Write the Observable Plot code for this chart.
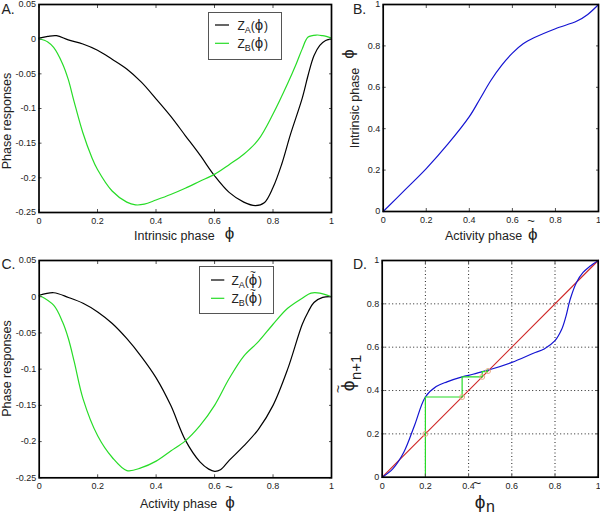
<!DOCTYPE html>
<html><head><meta charset="utf-8">
<script src="https://cdn.jsdelivr.net/npm/d3@7"></script>
<script src="https://cdn.jsdelivr.net/npm/@observablehq/plot@0.6"></script>
<style>
body{margin:0;background:#fff;}
#wrap{position:relative;width:600px;height:515px;overflow:hidden;}
#wrap svg{position:absolute;}
</style></head><body><div id="wrap"></div>
<script>
// ---- Panel A: phase responses vs intrinsic phase
const phiA_A = [0,0.03,0.06,0.1,0.15,0.2,0.25,0.3,0.35,0.4,0.45,0.5,0.55,0.6,0.65,0.7,0.74,0.77,0.8,0.83,0.86,0.9,0.92,0.94,0.96,0.98,1];
const zA_A   = [0.0015,0.004,0.005,-0.001,-0.007,-0.016,-0.029,-0.043,-0.062,-0.086,-0.111,-0.139,-0.167,-0.197,-0.221,-0.235,-0.24,-0.236,-0.214,-0.18,-0.137,-0.085,-0.052,-0.024,-0.009,-0.002,0];
const phiA_B = [0,0.03,0.05,0.08,0.1,0.12,0.15,0.18,0.2,0.25,0.3,0.33,0.36,0.4,0.45,0.5,0.55,0.6,0.65,0.7,0.75,0.8,0.85,0.88,0.9,0.92,0.95,0.97,1];
const zB_A   = [0.001,-0.004,-0.012,-0.035,-0.058,-0.09,-0.135,-0.17,-0.188,-0.219,-0.235,-0.239,-0.238,-0.232,-0.224,-0.215,-0.205,-0.195,-0.181,-0.166,-0.145,-0.108,-0.064,-0.035,-0.014,0.003,0.006,0.005,0.0015];
// ---- Panel B: intrinsic phase vs activity phase
const actB  = [0,0.1,0.2,0.3,0.4,0.45,0.5,0.55,0.6,0.65,0.7,0.8,0.9,0.95,1];
const intrB = [0,0.103,0.207,0.325,0.458,0.545,0.633,0.706,0.765,0.81,0.839,0.883,0.92,0.952,1];
// ---- Panel C: phase responses vs activity phase
const phiC_A = [0,0.05,0.1,0.15,0.2,0.25,0.3,0.35,0.4,0.45,0.5,0.55,0.58,0.6,0.62,0.65,0.7,0.75,0.8,0.85,0.9,0.92,0.94,0.97,1];
const zA_C   = [0.002,0.0055,-0.001,-0.009,-0.021,-0.037,-0.058,-0.083,-0.112,-0.15,-0.198,-0.228,-0.238,-0.241,-0.239,-0.226,-0.206,-0.183,-0.15,-0.1,-0.038,-0.021,-0.008,-0.001,0];
const phiC_B = [0,0.05,0.08,0.1,0.12,0.15,0.2,0.25,0.3,0.35,0.4,0.45,0.5,0.55,0.6,0.65,0.7,0.75,0.8,0.85,0.9,0.93,0.96,1];
const zB_C   = [0.002,-0.012,-0.035,-0.058,-0.09,-0.141,-0.192,-0.222,-0.24,-0.236,-0.227,-0.213,-0.199,-0.178,-0.15,-0.113,-0.082,-0.062,-0.038,-0.016,-0.002,0.005,0.005,0];
// ---- Panel D: return map
const phiN   = [0,0.05,0.1,0.15,0.2,0.25,0.3,0.37,0.42,0.463,0.5,0.6,0.7,0.75,0.8,0.83,0.85,0.87,0.9,0.93,0.96,1];
const phiN1  = [0,0.04,0.115,0.24,0.37,0.418,0.44,0.463,0.475,0.487,0.497,0.53,0.572,0.592,0.63,0.68,0.74,0.82,0.9,0.945,0.972,1];
const diagD  = [0,1];
const cobX   = [0.2,0.2,0.37,0.37,0.463,0.463,0.487,0.487];
const cobY   = [0,0.37,0.37,0.463,0.463,0.487,0.487,0.495];
const fixX   = [0.2,0.37,0.463,0.49];
// ---- ticks
const unitTicks = [0,0.2,0.4,0.6,0.8,1];
const prTicks = [0.05,0,-0.05,-0.1,-0.15,-0.2,-0.25];
const gridTicks = [0.2,0.4,0.6,0.8];

const GREEN = "#27dc27", BLUE = "#1414d2", RED = "#d02828";
const FONT = "'Liberation Sans', Arial, sans-serif";
const wrap = document.getElementById("wrap");
const fmt = d => String(+(+d).toFixed(2));
const pts = (xs, ys) => xs.map((x, i) => ({x, y: ys[i]}));

function axes(xt, yt) {
  return [
    Plot.axisX(xt, {anchor: "bottom", tickSize: 0, tickPadding: 5, tickFormat: fmt, label: null}),
    Plot.axisY(yt, {anchor: "left", tickSize: 0, tickPadding: 3, tickFormat: fmt, label: null}),
    Plot.axisX(xt, {anchor: "bottom", tickSize: 3, dy: -3, fill: "none", label: null, stroke: "#555"}),
    Plot.axisX(xt, {anchor: "top", tickSize: 3, dy: 3, fill: "none", label: null, stroke: "#555"}),
    Plot.axisY(yt, {anchor: "left", tickSize: 3, dx: 3, fill: "none", label: null, stroke: "#555"}),
    Plot.axisY(yt, {anchor: "right", tickSize: 3, dx: -3, fill: "none", label: null, stroke: "#555"})
  ];
}

function panel(p) {
  const svg = Plot.plot({
    width: p.width, height: p.height,
    marginLeft: p.ml, marginRight: p.mr, marginTop: p.mt, marginBottom: p.mb,
    x: {domain: p.xd, axis: null},
    y: {domain: p.yd, axis: null},
    style: {fontFamily: FONT, fontSize: "9px", color: "#222", background: "transparent", overflow: "visible"},
    marks: [...p.marks, ...axes(p.xt, p.yt), Plot.frame({stroke: "#000", strokeWidth: 1.7})]
  });
  svg.style.left = p.left + "px";
  svg.style.top = p.top + "px";
  wrap.appendChild(svg);
  return d3.select(svg).append("g").attr("transform", `translate(${-p.left},${-p.top})`)
    .attr("font-family", FONT).attr("fill", "#222").attr("text-anchor", "start");
}

function txt(g, x, y, s, size, o = {}) {
  const t = g.append("text").attr("x", x).attr("y", y).attr("font-size", size)
    .attr("text-anchor", o.anchor || "start").text(s);
  if (o.rotate) t.attr("transform", `rotate(${o.rotate},${x},${y})`);
  return t;
}

function legend(g, x0, y0, w, h, lineX1, lineX2, textX, rows, tilde) {
  g.append("rect").attr("x", x0).attr("y", y0).attr("width", w).attr("height", h)
    .attr("fill", "#fff").attr("stroke", "#555").attr("stroke-width", 1);
  rows.forEach(r => {
    g.append("line").attr("x1", lineX1).attr("x2", lineX2).attr("y1", r.y).attr("y2", r.y)
      .attr("stroke", r.color).attr("stroke-width", 1.2);
    const t = g.append("text").attr("x", textX).attr("y", r.y + 4.5).attr("font-size", 12).attr("text-anchor", "start");
    t.append("tspan").text("Z");
    t.append("tspan").attr("font-size", 9).attr("dy", 3).text(r.sub);
    t.append("tspan").attr("dy", -3).text("(");
    txt(g, textX + 21.5, r.y + 5, "\u03D5", 15, {anchor: "middle"});
    if (tilde) txt(g, textX + 21.5, r.y - 4.5, "~", 10, {anchor: "middle"});
    txt(g, textX + 26.5, r.y + 4.5, ")", 12);
  });
}

// Panel A
{
  const g = panel({left: 0, top: 0, width: 340, height: 255, ml: 38.5, mr: 9, mt: 4, mb: 43,
    xd: [0, 1], yd: [-0.25, 0.05], xt: unitTicks, yt: prTicks,
    marks: [
      Plot.line(pts(phiA_A, zA_A), {x: "x", y: "y", stroke: "#000", strokeWidth: 1.2, curve: "catmull-rom"}),
      Plot.line(pts(phiA_B, zB_A), {x: "x", y: "y", stroke: GREEN, strokeWidth: 1.2, curve: "catmull-rom"})
    ]});
  txt(g, 1.5, 14, "A.", 14);
  txt(g, 11, 121, "Phase responses", 12.5, {anchor: "middle", rotate: -90});
  txt(g, 134, 240, "Intrinsic phase", 12.5);
  txt(g, 229.5, 239, "\u03D5", 17, {anchor: "middle"});
  legend(g, 208.5, 12.5, 73, 47, 215, 229, 237.5, [{y: 25, color: "#000", sub: "A"}, {y: 43.3, color: GREEN, sub: "B"}], false);
}
// Panel B
{
  const g = panel({left: 335, top: 0, width: 265, height: 255, ml: 47.7, mr: 2, mt: 4, mb: 44,
    xd: [0, 1], yd: [0, 1], xt: unitTicks, yt: unitTicks,
    marks: [
      Plot.line(pts(actB, intrB), {x: "x", y: "y", stroke: BLUE, strokeWidth: 1.2, curve: "catmull-rom"})
    ]});
  txt(g, 353, 14, "B.", 14);
  txt(g, 358.5, 108, "Intrinsic phase", 12.5, {anchor: "middle", rotate: -90});
  txt(g, 353.5, 54, "\u03D5", 17, {anchor: "middle", rotate: -90});
  txt(g, 445, 240, "Activity phase", 12.5);
  txt(g, 532.7, 240, "\u03D5", 17, {anchor: "middle"});
  txt(g, 531, 225, "~", 13, {anchor: "middle"});
}
// Panel C
{
  const g = panel({left: 0, top: 255, width: 340, height: 260, ml: 38.7, mr: 9, mt: 5, mb: 37.7,
    xd: [0, 1], yd: [-0.25, 0.05], xt: unitTicks, yt: prTicks,
    marks: [
      Plot.line(pts(phiC_A, zA_C), {x: "x", y: "y", stroke: "#000", strokeWidth: 1.2, curve: "catmull-rom"}),
      Plot.line(pts(phiC_B, zB_C), {x: "x", y: "y", stroke: GREEN, strokeWidth: 1.2, curve: "catmull-rom"})
    ]});
  txt(g, 1.5, 269, "C.", 14);
  txt(g, 11, 368.5, "Phase responses", 12.5, {anchor: "middle", rotate: -90});
  txt(g, 140, 508, "Activity phase", 12.5);
  txt(g, 230, 508, "\u03D5", 17, {anchor: "middle"});
  txt(g, 229, 491, "~", 13, {anchor: "middle"});
  legend(g, 199.5, 266.5, 74, 47, 211, 224.3, 231.5, [{y: 280, color: "#000", sub: "A"}, {y: 298.3, color: GREEN, sub: "B"}], true);
}
// Panel D
{
  const g = panel({left: 335, top: 255, width: 265, height: 260, ml: 46.7, mr: 2.3, mt: 5, mb: 38.3,
    xd: [0, 1], yd: [0, 1], xt: unitTicks, yt: unitTicks,
    marks: [
      Plot.ruleX(gridTicks, {stroke: "#222", strokeDasharray: "1,2.5"}),
      Plot.ruleY(gridTicks, {stroke: "#222", strokeDasharray: "1,2.5"}),
      Plot.line(pts(diagD, diagD), {x: "x", y: "y", stroke: RED, strokeWidth: 1.2}),
      Plot.line(pts(phiN, phiN1), {x: "x", y: "y", stroke: BLUE, strokeWidth: 1.2, curve: "catmull-rom"}),
      Plot.line(pts(cobX, cobY), {x: "x", y: "y", stroke: GREEN, strokeWidth: 1.2}),
      Plot.dot(pts(fixX, fixX), {x: "x", y: "y", r: 2.5, stroke: "#e6ac8a", strokeWidth: 1, fill: "none"})
    ]});
  txt(g, 353, 269, "D.", 14);
  txt(g, 480, 507.5, "\u03D5", 19, {anchor: "middle"});
  txt(g, 486, 512, "n", 16);
  txt(g, 477, 488, "~", 14, {anchor: "middle"});
  txt(g, 353.5, 386, "\u03D5", 19, {anchor: "middle", rotate: -90});
  txt(g, 360.5, 380, "n+1", 15, {rotate: -90});
  txt(g, 342.6, 389, "~", 14, {anchor: "middle", rotate: -90});
}
</script></body></html>
